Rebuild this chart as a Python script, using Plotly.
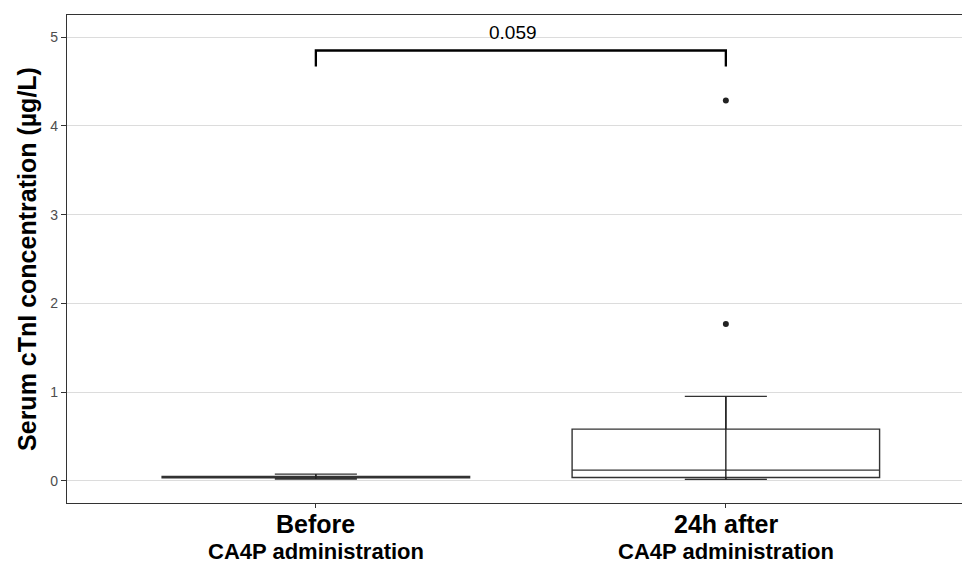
import plotly.graph_objects as go

categories = ["Before", "24h after"]
sub_label = "CA4P administration"
q1 = [0.035, 0.038]
median = [0.042, 0.12]
q3 = [0.05, 0.583]
lowerfence = [0.02, 0.016]
upperfence = [0.075, 0.952]
outlier_x = ["24h after", "24h after"]
outlier_y = [4.285, 1.767]
p_text = "0.059"
bracket_y = [4.67, 4.85]
y_ticks = [0, 1, 2, 3, 4, 5]

FONT = "Liberation Sans, Arial"

fig = go.Figure()
fig.add_trace(go.Box(
    x=categories, q1=q1, median=median, q3=q3,
    lowerfence=lowerfence, upperfence=upperfence,
    boxpoints=False, width=0.75, whiskerwidth=0.267,
    fillcolor="white", line=dict(color="#333333", width=1.4),
    showlegend=False, hoverinfo="skip"))
for c, lo, hi in zip(categories, lowerfence, upperfence):
    fig.add_trace(go.Scatter(x=[c, c], y=[lo, hi], mode="lines",
                             line=dict(color="#222222", width=1.4),
                             showlegend=False, hoverinfo="skip"))
fig.add_trace(go.Scatter(x=outlier_x, y=outlier_y, mode="markers",
                         marker=dict(color="#222222", size=6),
                         showlegend=False, hoverinfo="skip"))

# significance bracket
fig.add_shape(type="path", xref="x", yref="y",
              path=f"M 0,{bracket_y[0]} L 0,{bracket_y[1]} L 1,{bracket_y[1]} L 1,{bracket_y[0]}",
              line=dict(color="black", width=2.3))
fig.add_annotation(x=0.48, y=5.05, text=p_text, showarrow=False,
                   font=dict(family=FONT, size=19, color="black"),
                   yanchor="middle")

for c in categories:
    fig.add_annotation(x=c, y=-0.043, xref="x", yref="paper", yanchor="middle",
                       text=f"<b>{c}</b>", showarrow=False,
                       font=dict(family=FONT, size=25, color="black"))
    fig.add_annotation(x=c, y=-0.099, xref="x", yref="paper", yanchor="middle",
                       text=f"<b>{sub_label}</b>", showarrow=False,
                       font=dict(family=FONT, size=22, color="black"))

fig.update_layout(
    width=962, height=563,
    margin=dict(l=67, r=0, t=15, b=60, autoexpand=False),
    plot_bgcolor="white", paper_bgcolor="white",
    font=dict(family=FONT),
)
fig.update_xaxes(
    type="category", range=[-0.607, 1.576], showticklabels=False,
    showline=True, linecolor="#333333", linewidth=1.4, mirror=True,
    ticks="outside", ticklen=4, tickcolor="#333333", showgrid=False)
fig.update_yaxes(
    range=[-0.25, 5.25], tickvals=y_ticks, showline=True, linecolor="#333333",
    linewidth=1.4, mirror=False, ticks="outside", ticklen=5, tickcolor="#333333",
    tickfont=dict(size=14, color="#4d4d4d"), showgrid=True, gridcolor="#dcdcdc",
    gridwidth=1.2, zeroline=False,
    title=dict(text="<b>Serum cTnI concentration (µg/L)</b>",
               font=dict(size=25, color="black"), standoff=6))

fig.write_html("out.html", config={"displayModeBar": False},
               post_script="document.body.style.margin='0px';")
